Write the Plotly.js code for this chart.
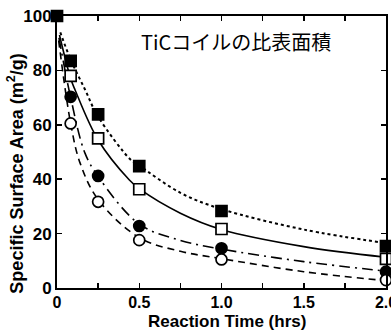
<!DOCTYPE html>
<html>
<head>
<meta charset="utf-8">
<script src="https://cdn.plot.ly/plotly-3.0.1.min.js"></script>
<style>html,body{margin:0;padding:0;background:#fff;overflow:hidden;}#chart{width:391px;height:331px;}</style>
</head>
<body>
<div id="chart"></div>
<script>
// measured points
const timePts = [0, 0.083, 0.25, 0.5, 1.0, 2.0];
const filledSq = [100, 83.5, 63.8, 44.8, 28.3, 15.4];
const openSq = [null, 78, 55, 36.3, 21.7, 10.7];
const filledCi = [null, 70.3, 41.2, 22.8, 14.6, 6];
const openCi = [null, 60.5, 31.7, 17.6, 10.5, 2.9];

// fitted curves
const dotX = [0.02, 0.083, 0.17, 0.25, 0.45, 0.5, 0.75, 1.0, 1.5, 2.0];
const dotY = [94, 84, 73, 63, 47, 45, 35, 29, 21.5, 16.5];
const solidX = [0.015, 0.083, 0.11, 0.25, 0.44, 0.5, 0.75, 1.0, 1.5, 2.0];
const solidY = [93, 77, 72.8, 54.4, 39.7, 36.5, 27.5, 21.5, 15.2, 11.3];
const ddX = [0.012, 0.083, 0.17, 0.25, 0.5, 0.75, 1.0, 1.5, 2.0];
const ddY = [92, 70, 49.6, 41, 23.5, 17.5, 14.3, 9.7, 6.2];
const dashX = [0.01, 0.083, 0.14, 0.25, 0.5, 0.75, 1.0, 1.5, 2.0];
const dashY = [91, 60.5, 46, 32.5, 18.5, 13.5, 10.8, 6, 2.7];

const xTickVals = [0, 0.25, 0.5, 0.75, 1.0, 1.25, 1.5, 1.75, 2.0];
const xTickText = ['0', ' ', '0.5', ' ', '1.0', ' ', '1.5', ' ', '2.0'];
const yTickVals = [0, 20, 40, 60, 80, 100];
const yTickText = ['0', '20', '40', '60', '80', '100'];

const lineTrace = (x, y, dash, w) => ({
  x: x, y: y, mode: 'lines', type: 'scatter',
  line: {color: '#000', width: w, dash: dash, shape: 'spline', smoothing: 1},
  hoverinfo: 'skip', cliponaxis: false
});
const markTrace = (y, symbol, fill) => ({
  x: timePts, y: y, mode: 'markers', type: 'scatter',
  marker: {symbol: symbol, size: 11, color: fill, line: {color: '#000', width: 1.7}},
  cliponaxis: false
});

const data = [
  lineTrace(dotX, dotY, 'dot', 2),
  lineTrace(solidX, solidY, 'solid', 1.6),
  lineTrace(ddX, ddY, '11px,5px,2px,5px', 1.6),
  lineTrace(dashX, dashY, '7px,5px', 1.6),
  markTrace(filledSq, 'square', '#000'),
  markTrace(openSq, 'square', '#fff'),
  markTrace(filledCi, 'circle', '#000'),
  markTrace(openCi, 'circle', '#fff')
];

const tickFont = {family: 'Liberation Sans, Arial, sans-serif', size: 17, color: '#000', weight: 'bold'};
const xTickFont = Object.assign({}, tickFont, {size: 16});

const layout = {
  width: 391, height: 331,
  margin: {l: 57, r: 5, t: 16, b: 43},
  paper_bgcolor: '#fff', plot_bgcolor: '#fff',
  showlegend: false,
  xaxis: {
    range: [0, 2.0], tickmode: 'array', tickvals: xTickVals, ticktext: xTickText,
    ticks: 'inside', ticklen: 5, tickwidth: 1.5, tickcolor: '#000',
    showline: true, linecolor: '#000', linewidth: 2, mirror: 'allticks',
    showgrid: false, zeroline: false, tickfont: xTickFont, ticklabeloverflow: 'allow',
    ticklabelstandoff: -1
  },
  yaxis: {
    range: [0, 100], tickmode: 'array', tickvals: yTickVals, ticktext: yTickText,
    ticks: 'inside', ticklen: 5, tickwidth: 1.5, tickcolor: '#000',
    showline: true, linecolor: '#000', linewidth: 2, mirror: 'allticks',
    showgrid: false, zeroline: false, tickfont: tickFont, ticklabeloverflow: 'allow'
  },
  annotations: [
    {text: 'Reaction Time (hrs)', xref: 'paper', yref: 'paper',
     x: 0.517, y: -0.122, xanchor: 'center', yanchor: 'middle',
     showarrow: false, font: tickFont},
    {text: 'Specific Surface Area (m<sup>2</sup>/g)', xref: 'paper', yref: 'paper',
     x: -0.125, y: 0.42, xanchor: 'center', yanchor: 'middle', textangle: -90,
     showarrow: false, font: Object.assign({}, tickFont, {size: 18})},
    {text: 'TiCコイルの比表面積', xref: 'paper', yref: 'paper',
     x: 0.25, y: 0.905, xanchor: 'left', yanchor: 'middle', showarrow: false,
     font: {family: 'Noto Sans CJK JP', size: 20, color: '#000'}}
  ]
};

Plotly.newPlot('chart', data, layout, {displayModeBar: false, staticPlot: true});
</script>
</body>
</html>
